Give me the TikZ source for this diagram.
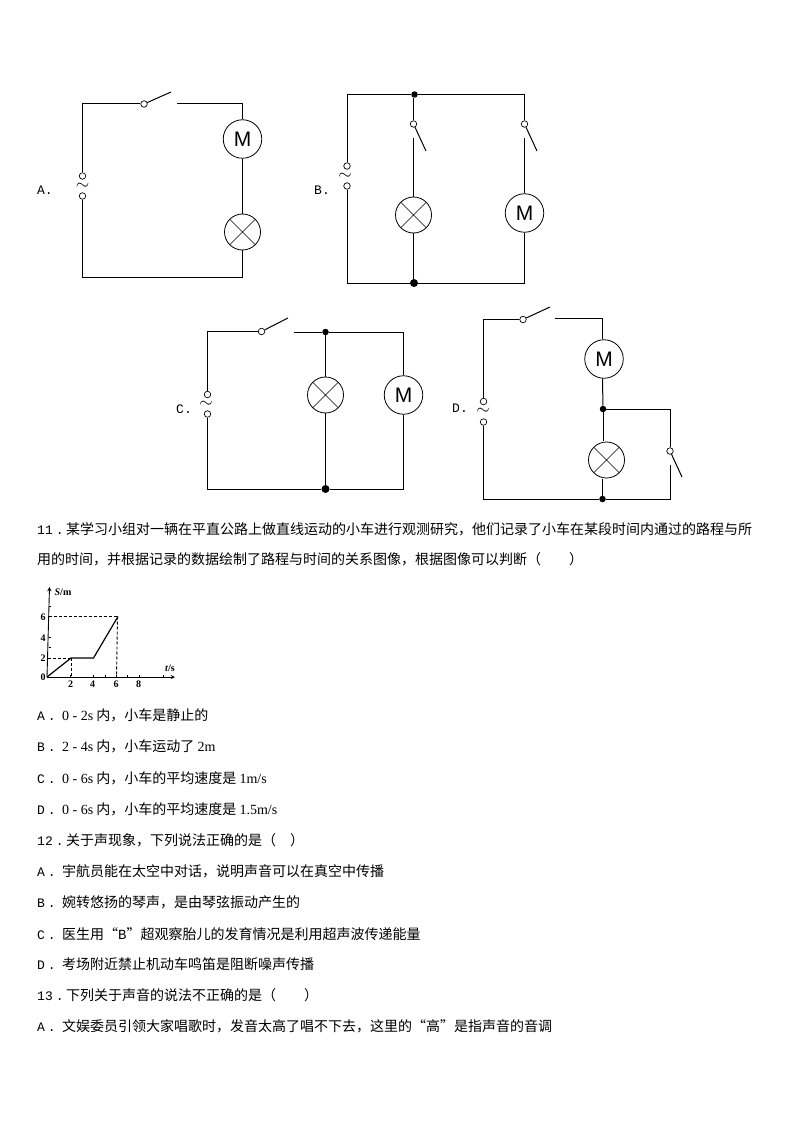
\documentclass[tikz,border=0pt]{standalone}
\usepackage{fontspec}
\setmainfont{Liberation Serif}
\setsansfont{Liberation Sans}
\setmonofont{Liberation Mono}
\newfontfamily\cjk{Noto Sans CJK SC}
% question and option numbers, in a box of fixed width
\newcommand{\numlab}[2]{\makebox[#2pt][l]{\ttfamily\fontsize{13}{14}\selectfont #1\hspace{3pt}.}}
% quotes as wide as one character
\newcommand{\qleft}{\makebox[14pt][r]{“}}
\newcommand{\qright}{\makebox[14pt][l]{”}}
\tikzset{
  wire/.style={line width=1pt},
  terminal/.style={circle,draw,line width=0.7pt,fill=white,inner sep=0pt,minimum size=6.5pt},
  motor/.style={circle,draw,line width=0.8pt,fill=white,inner sep=0pt,minimum size=38.5pt,font=\sffamily\fontsize{21}{21}\selectfont},
  lamp/.style={circle,draw,line width=0.8pt,fill=white,inner sep=0pt,minimum size=36pt,
    path picture={\draw[line width=0.6pt] (path picture bounding box.south west) -- (path picture bounding box.north east)
      (path picture bounding box.north west) -- (path picture bounding box.south east);}},
  dot/.style={circle,fill=black,inner sep=0pt,minimum size=6.5pt},
  bigdot/.style={circle,fill=black,inner sep=0pt,minimum size=8pt},
  tilde/.style={inner sep=0pt,font=\fontsize{17}{17}\selectfont},
  choice/.style={inner sep=0pt,font=\ttfamily\fontsize{13}{14}\selectfont},
  line/.style={anchor=base west,inner sep=0pt,font=\cjk\fontsize{14}{16}\selectfont},
  tick/.style={inner sep=0pt,font=\bfseries\fontsize{10}{11}\selectfont},
  guide/.style={line width=0.9pt,dash pattern=on 3pt off 2pt}
}
\begin{document}
\begin{tikzpicture}[x=1pt,y=-1pt]
\useasboundingbox[fill=white] (0,0) rectangle (794,1123);

% Circuit A
\node[choice] (labelA) at (45,190) {A.};
\node[terminal] (srcAt) at (82.5,176) {};
\node[terminal] (srcAb) at (82.5,196) {};
\node[tilde] (tilA) at (82.5,186) {$\sim$};
\node[terminal] (swA) at (144,104) {};
\coordinate (bladeA) at (171,92);
\coordinate (gapA) at (177,103.5);
\node[motor] (motorA) at (242.5,139) {M};
\node[lamp] (lampA) at (242.5,232) {};
\coordinate (cornerA) at (82.5,277);
\draw[wire] (srcAt) |- (swA);
\draw[wire] (swA) -- (bladeA);
\draw[wire] (gapA) -| (motorA);
\draw[wire] (motorA) -- (lampA);
\draw[wire] (lampA) |- (cornerA) -- (srcAb);

% Circuit B
\node[choice] (labelB) at (322,190) {B.};
\node[terminal] (srcBt) at (347,166) {};
\node[terminal] (srcBb) at (347,186) {};
\node[tilde] (tilB) at (345,176.5) {$\sim$};
\node[dot] (topB) at (414.5,94.5) {};
\node[bigdot] (botB) at (414,283) {};
\node[terminal] (swB1) at (413.5,124) {};
\coordinate (bladeB1) at (426,151);
\coordinate (gapB1) at (413.5,138);
\node[lamp] (lampB) at (413.5,215) {};
\node[terminal] (swB2) at (524.5,124) {};
\coordinate (bladeB2) at (537,151);
\coordinate (gapB2) at (524.5,138);
\node[motor] (motorB) at (524.5,213) {M};
\draw[wire] (srcBt) |- (topB);
\draw[wire] (topB) -| (swB2);
\draw[wire] (topB.south -| swB1) -- (swB1);
\draw[wire] (swB1) -- (bladeB1);
\draw[wire] (swB2) -- (bladeB2);
\draw[wire] (gapB1) -- (lampB);
\draw[wire] (gapB2) -- (motorB);
\draw[wire] (lampB) -- (botB.north -| lampB);
\draw[wire] (motorB) |- (botB);
\draw[wire] (botB) -| (srcBb);

% Circuit C
\node[choice] (labelC) at (184,409) {C.};
\node[terminal] (srcCt) at (207.5,394.5) {};
\node[terminal] (srcCb) at (207.5,414) {};
\node[tilde] (tilC) at (206,404.5) {$\sim$};
\node[terminal] (swC) at (261.5,331.5) {};
\coordinate (bladeC) at (288,318);
\coordinate (gapC) at (294,332);
\node[dot] (topC) at (325.5,332) {};
\node[bigdot] (botC) at (325.5,489) {};
\node[lamp] (lampC) at (325.5,395) {};
\node[motor] (motorC) at (403.5,395) {M};
\draw[wire] (srcCt) |- (swC);
\draw[wire] (swC) -- (bladeC);
\draw[wire] (gapC) -- (topC);
\draw[wire] (topC) -| (motorC);
\draw[wire] (topC) -- (lampC);
\draw[wire] (lampC) -- (botC);
\draw[wire] (motorC) |- (botC);
\draw[wire] (botC) -| (srcCb);

% Circuit D
\node[choice] (labelD) at (460,408) {D.};
\node[terminal] (srcDt) at (483.5,401.5) {};
\node[terminal] (srcDb) at (483.5,422) {};
\node[tilde] (tilD) at (483,411.5) {$\sim$};
\node[terminal] (swD1) at (523,319.5) {};
\coordinate (bladeD1) at (550,307);
\coordinate (gapD1) at (555,318.5);
\node[motor] (motorD) at (604,359) {M};
\node[dot] (midD) at (603,409) {};
\node[lamp] (lampD) at (606.5,460) {};
\node[dot] (botD) at (602.5,499) {};
\node[terminal] (swD2) at (670,451) {};
\coordinate (bladeD2) at (682,477);
\coordinate (gapD2) at (670.5,465);
\draw[wire] (srcDt) |- (swD1);
\draw[wire] (swD1) -- (bladeD1);
\draw[wire] (gapD1) -| (motorD.north -| botD);
\draw[wire] (motorD.south -| botD) -- (midD);
\draw[wire] (midD) -- ([yshift=1pt]midD |- lampD.north);
\draw[wire] ([yshift=-1pt]botD |- lampD.south) -- (botD);
\draw[wire] (midD) -| (swD2);
\draw[wire] (swD2) -- (bladeD2);
\draw[wire] (gapD2) |- (botD);
\draw[wire] (botD) -| (srcDb);

% Question 11
\node[line] (q11a) at (37,534) {\numlab{11}{29}某学习小组对一辆在平直公路上做直线运动的小车进行观测研究，他们记录了小车在某段时间内通过的路程与所};
\node[line] (q11b) at (37,564) {用的时间，并根据记录的数据绘制了路程与时间的关系图像，根据图像可以判断（　　）};

% s-t graph
\draw[line width=0.9pt,-stealth] (47,677) -- (175,677);
\draw[line width=0.9pt,-stealth] (47,677) -- (49.5,587);
\draw[guide] (47.5,658) -- (71,658);
\draw[guide] (48.5,616.5) -- (118,616.5);
\draw[guide] (71,658) -- (71,677);
\draw[guide] (117.5,616.5) -- (116.5,677);
\draw[line width=1.2pt] (47,677) -- (71,658) -- (93.5,658) -- (118,616.5);
\foreach \xt in {70.7,93.3,105,116.7,127,139,163} \draw[line width=0.7pt] (\xt,677) -- (\xt,675);
\foreach \yt in {606,616.5,637,647,658} \draw[line width=0.7pt] (48.5,\yt) -- (50.5,\yt);
\node[tick] (ytick0) at (43,677) {0};
\node[tick] (ytick2) at (43,658) {2};
\node[tick] (ytick4) at (43,638) {4};
\node[tick] (ytick6) at (43,617) {6};
\node[tick] (xtick2) at (70.5,684) {2};
\node[tick] (xtick4) at (92.5,684) {4};
\node[tick] (xtick6) at (116,684) {6};
\node[tick] (xtick8) at (138.5,684) {8};
\node[tick] (ylab) at (63,592) {\textit{S}/m};
\node[tick] (xlab) at (170,668) {\textit{t}/s};

% Options of question 11
\node[line] (q11A) at (37,720) {\numlab{A}{25}{\rmfamily 0 - 2s} 内，小车是静止的};
\node[line] (q11B) at (37,751) {\numlab{B}{25}{\rmfamily 2 - 4s} 内，小车运动了 {\rmfamily 2m}};
\node[line] (q11C) at (37,783) {\numlab{C}{25}{\rmfamily 0 - 6s} 内，小车的平均速度是 {\rmfamily 1m/s}};
\node[line] (q11D) at (37,814) {\numlab{D}{25}{\rmfamily 0 - 6s} 内，小车的平均速度是 {\rmfamily 1.5m/s}};

% Question 12
\node[line] (q12) at (37,845) {\numlab{12}{29}关于声现象，下列说法正确的是（　）};
\node[line] (q12A) at (37,876) {\numlab{A}{25}宇航员能在太空中对话，说明声音可以在真空中传播};
\node[line] (q12B) at (37,907) {\numlab{B}{25}婉转悠扬的琴声，是由琴弦振动产生的};
\node[line] (q12C) at (37,939) {\numlab{C}{25}医生用\qleft{\ttfamily B}\qright 超观察胎儿的发育情况是利用超声波传递能量};
\node[line] (q12D) at (37,969) {\numlab{D}{25}考场附近禁止机动车鸣笛是阻断噪声传播};

% Question 13
\node[line] (q13) at (37,1000) {\numlab{13}{29}下列关于声音的说法不正确的是（　　）};
\node[line] (q13A) at (37,1031) {\numlab{A}{25}文娱委员引领大家唱歌时，发音太高了唱不下去，这里的\qleft 高\qright 是指声音的音调};
\end{tikzpicture}
\end{document}
